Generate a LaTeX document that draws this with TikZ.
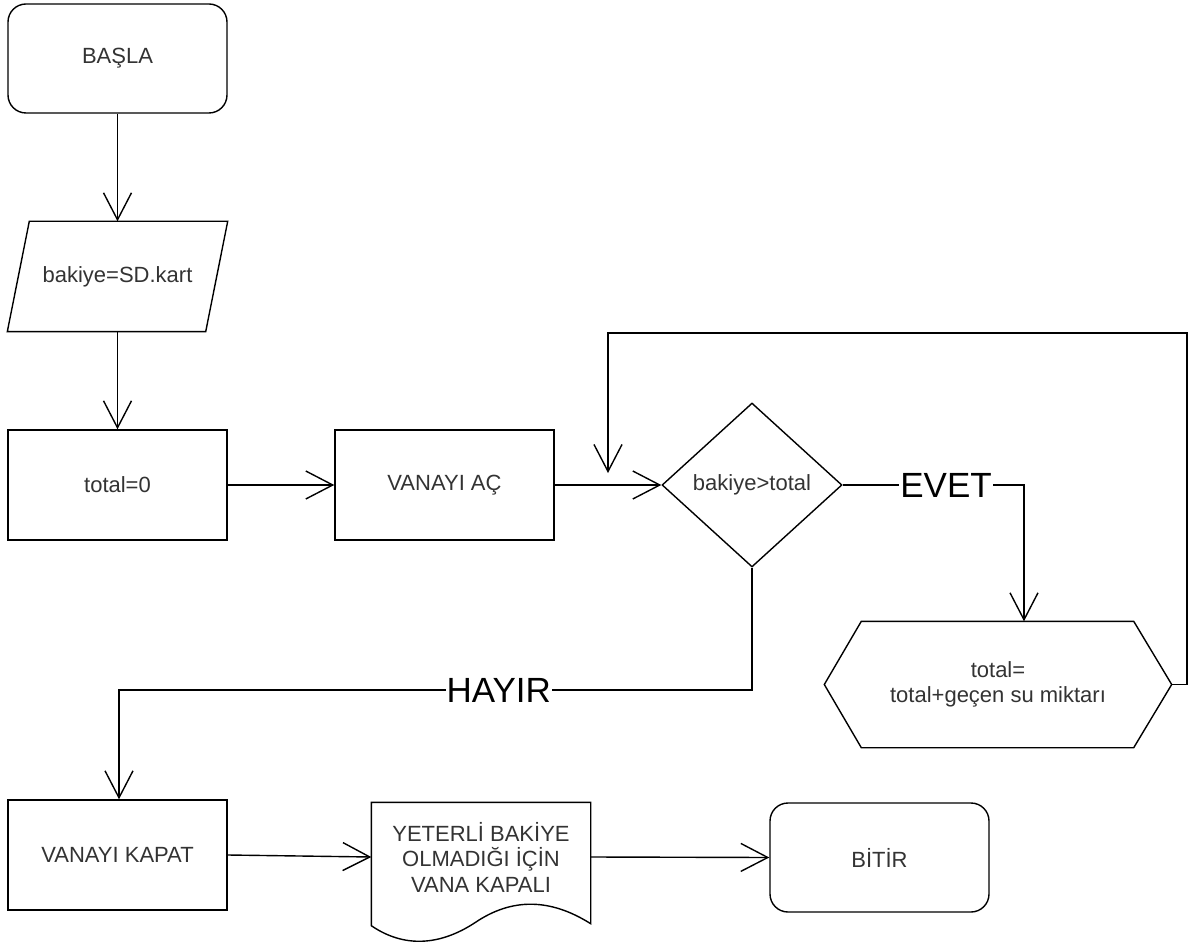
\documentclass[tikz,border=0pt]{standalone}
\usepackage{fontspec}
\setmainfont{Liberation Sans}
\usetikzlibrary{shapes.geometric,arrows.meta}
\begin{document}
\begin{tikzpicture}[x=1pt,y=-1pt,
  base/.style={line width=1.4pt, text=black!80, font=\fontsize{22}{25.5}\selectfont, align=center, inner sep=0pt},
  term/.style={base, draw, rounded corners=18pt, minimum width=219pt, minimum height=109pt},
  proc/.style={base, draw, minimum width=219pt, minimum height=110pt},
  outline/.style={draw, line width=1.4pt, line join=miter},
  arr/.style={draw, line width=1.4pt, -{Straight Barb[length=27pt,width=28pt]}},
  lbl/.style={fill=white, text=black, inner sep=1pt, font=\fontsize{35}{40}\selectfont}
]
\useasboundingbox (0,0) rectangle (1191,949);

\node[term] (start) at (117.5,58.5) {BAŞLA};

\node[base, minimum width=219pt, minimum height=109pt] (inp) at (117.5,276.5) {bakiye=SD.kart};
\draw[outline] ([xshift=22pt]inp.north west) -- (inp.north east) -- ([xshift=-22pt]inp.south east) -- (inp.south west) -- cycle;

\node[proc] (tot) at (117.5,485) {total=0};
\node[proc] (ac) at (444.5,485) {VANAYI AÇ};
\node[base, draw, diamond, minimum width=180pt, minimum height=164pt] (dec) at (752,485) {bakiye>total};

\node[base, minimum width=346pt, minimum height=125pt] (hex) at (998,684.5) {total=\\total+geçen su miktarı};
\draw[outline] (hex.west) -- ([xshift=37pt]hex.north west) -- ([xshift=-38pt]hex.north east) -- (hex.east) -- ([xshift=-38pt]hex.south east) -- ([xshift=37pt]hex.south west) -- cycle;

\node[proc] (kap) at (117.5,855) {VANAYI KAPAT};

\node[base, minimum width=218pt, minimum height=108pt] (doc) at (481,857) {YETERLİ BAKİYE\\OLMADIĞI İÇİN\\VANA KAPALI};
\draw[outline] (doc.north west) -- (doc.north east) -- ([yshift=-12pt]doc.south east)
  .. controls (550,898) and (512,898) .. (476,922)
  .. controls (440,946) and (404,948) .. ([yshift=-14pt]doc.south west) -- cycle;

\node[term] (end) at (879.5,857.5) {BİTİR};

\coordinate (ev) at (1024,485);
\coordinate (lp) at (1187,333);
\coordinate (lpend) at (608,473);
\coordinate (hy) at (119,690);

\draw[arr] (start) -- (inp);
\draw[arr] (inp) -- (tot);
\draw[arr] (tot) -- (ac);
\draw[arr] (ac) -- (dec);
\draw[arr] (dec.east) -- node[lbl, pos=0.57] {EVET} (ev) -- (ev |- hex.north);
\draw[arr] (hex.east) -| (lp) -- (lp -| lpend) -- (lpend);
\draw[arr] (dec.south) -- (dec.south |- hy) -- node[lbl, pos=0.4] {HAYIR} (hy) -- (hy |- kap.north);
\draw[arr] (kap.east) -- (doc.west);
\draw[arr] (doc.east) -- (end.west);
\end{tikzpicture}
\end{document}
